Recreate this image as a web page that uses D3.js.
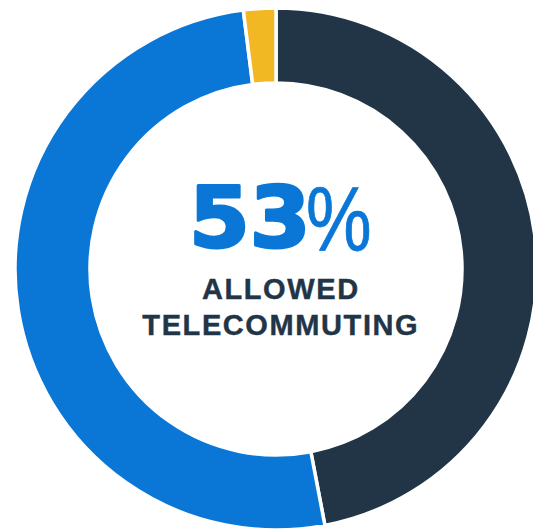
<!DOCTYPE html>
<html>
<head>
<meta charset="utf-8">
<script src="https://cdn.jsdelivr.net/npm/d3@7"></script>
<style>
html,body{margin:0;padding:0;background:#fff;overflow:hidden;}
svg{display:block;}
</style>
</head>
<body>
<svg id="chart" width="533" height="531"></svg>
<script>
const categories = ["Not allowed", "Allowed telecommuting", "Other"];
const values = [47, 51, 2];
const colors = ["#213547", "#0A77D6", "#F1B823"];
const headline = "53";
const headlineUnit = "%";
const labelLines = ["ALLOWED", "TELECOMMUTING"];

const svg = d3.select("#chart");
const cx = 276, cy = 269, rOuter = 261, rInner = 186;

const data = categories.map((c, i) => ({category: c, value: values[i]}));
const pie = d3.pie().sort(null).value(d => d.value);
const arc = d3.arc().innerRadius(rInner).outerRadius(rOuter);
const color = d3.scaleOrdinal().domain(categories).range(colors);

const g = svg.append("g").attr("transform", `translate(${cx},${cy})`);
g.selectAll("path").data(pie(data)).join("path")
  .attr("d", arc)
  .attr("fill", d => color(d.data.category))
  .attr("stroke", "#fff")
  .attr("stroke-width", 3.5)
  .attr("stroke-linejoin", "miter");

svg.append("text")
  .attr("transform", "translate(189,247) scale(1.04,1)")
  .attr("x", 0).attr("y", 0)
  .attr("font-family", "DejaVu Sans")
  .attr("font-weight", "bold")
  .attr("font-size", 84)
  .attr("fill", "#0A77D6")
  .attr("stroke", "#0A77D6")
  .attr("stroke-width", 3)
  .attr("stroke-linejoin", "round")
  .text(headline);

svg.append("text")
  .attr("transform", "translate(306,250) scale(0.82,1)")
  .attr("x", 0).attr("y", 0)
  .attr("font-family", "Liberation Sans, Arial, sans-serif")
  .attr("font-size", 90)
  .attr("fill", "#0A77D6")
  .attr("stroke", "#0A77D6")
  .attr("stroke-width", 0.8)
  .text(headlineUnit);

const ys = [299, 335];
labelLines.forEach((t, i) => {
  svg.append("text")
    .attr("x", 280 + 0.8).attr("y", ys[i])
    .attr("text-anchor", "middle")
    .attr("font-family", "Liberation Sans, Arial, sans-serif")
    .attr("font-weight", "bold")
    .attr("font-size", 29)
    .attr("letter-spacing", 1.6)
    .attr("fill", "#213547")
    .attr("stroke", "#213547")
    .attr("stroke-width", 0.4)
    .text(t);
});
</script>
</body>
</html>
